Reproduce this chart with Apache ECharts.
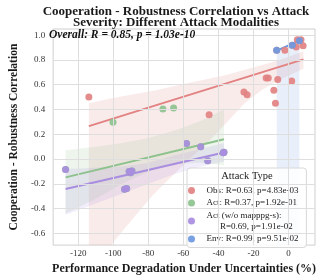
<!DOCTYPE html>
<html><head><meta charset="utf-8">
<script src="https://cdn.jsdelivr.net/npm/echarts@6/dist/echarts.min.js"></script>
<style>html,body{margin:0;padding:0;background:#fff}#c{width:319px;height:280px}</style>
</head><body><div id="c"></div>
<script>
// ---- tick labels ----
const xTicks = [-120, -100, -80, -60, -40, -20, 0];
const yTicks = [-0.6, -0.4, -0.2, 0.0, 0.2, 0.4, 0.6, 0.8, 1.0];

// ---- series values ----
const obsX = [-114.0, -45.3, -25.4, -23.6, -12.7, -11.5, -6.1, 1.9, -8.3, -7.4, -2.0, 5.1, 7.2, 4.5, 8.4, -6.7, 2.2, 6.3];
const obsY = [0.50, 0.357, 0.542, 0.52, 0.654, 0.654, 0.643, 0.63, 0.556, 0.45, 0.878, 0.963, 0.963, 0.905, 0.915, 0.878, 0.918, 0.955];

const actWoX = [-127.3, -91.0, -89.4, -90.2, -93.6, -92.4, -58.2, -50.1, -46.1, -36.8, -37.2];
const actWoY = [-0.084, -0.10, -0.096, -0.11, -0.245, -0.238, 0.126, 0.10, -0.013, 0.055, 0.05];

const actExtraX = [-100.2, -71.7, -65.6];
const actExtraY = [0.297, 0.405, 0.413];
const actX = actWoX.concat(actExtraX);
const actY = actWoY.concat(actExtraY);

const envX = [-6.7, 2.2, 6.3];
const envY = [0.878, 0.918, 0.955];

// ---- regression lines ----
const obsFitX = [-114.0, 8.6];  const obsFitY = [0.266, 0.805];
const actFitX = [-127.3, -36.8]; const actFitY = [-0.148, 0.160];
const actWoFitX = [-127.3, -36.8]; const actWoFitY = [-0.242, 0.053];
const envFitX = [-6.7, 6.3];    const envFitY = [0.876, 0.955];

// ---- confidence bands ----
const obsBandX = [-114, -101, -90, -78, -68, -55, -45, -35, -25, -15, -5, 8.6];
const obsBandU = [0.45, 0.49, 0.52, 0.55, 0.58, 0.62, 0.65, 0.68, 0.72, 0.76, 0.80, 0.87];
const obsBandL = [-1.3, -0.69, -0.50, -0.30, -0.16, 0.02, 0.15, 0.30, 0.45, 0.56, 0.64, 0.73];

const actBandX = [-127.3, -110, -95, -80, -65, -50, -36.8];
const actBandU = [0.07, 0.10, 0.13, 0.17, 0.23, 0.31, 0.40];
const actBandL = [-0.44, -0.32, -0.20, -0.10, -0.04, -0.03, -0.05];

const actWoBandX = [-127.3, -110, -95, -80, -65, -50, -36.8];
const actWoBandU = [-0.08, -0.07, -0.06, -0.03, 0.03, 0.08, 0.13];
const actWoBandL = [-0.45, -0.36, -0.28, -0.20, -0.12, -0.06, -0.02];

const envBandX = [-6.7, 6.3];
const envBandU = [0.87, 0.96];
const envBandL = [-1.5, -1.5];

// ---- legend labels ----
const legendNames = ['Obs', 'Act', 'ActWo', 'Env'];
const legendLabels = {
  Obs: 'Obs: R=0.63, p=4.83e-03',
  Act: 'Act: R=0.37, p=1.92e-01',
  ActWo: 'Act (w/o mapppg-s):\n      R=0.69, p=1.91e-02',
  Env: 'Env: R=0.99, p=9.51e-02'
};
const titleLines = ['Cooperation - Robustness Correlation vs Attack', 'Severity: Different Attack Modalities'];
const overallText = 'Overall: R = 0.85, p = 1.03e-10';
const legendTitle = 'Attack Type';

const C = { Obs: '#e28282', Act: '#8dc28d', ActWo: '#a98de0', Env: '#6e99df' };
const FONT = 'Liberation Serif';

function zip(xs, ys) { return xs.map((x, i) => [x, ys[i]]); }

function band(name, bx, bu, bl, color) {
  return {
    type: 'custom', name: name + 'Band', clip: true, silent: true, z: 1,
    data: [[bx[0], bu[0]]], encode: { x: 0, y: 1 },
    renderItem: function (params, api) {
      const pts = [];
      for (let i = 0; i < bx.length; i++) pts.push(api.coord([bx[i], bu[i]]));
      for (let i = bx.length - 1; i >= 0; i--) pts.push(api.coord([bx[i], bl[i]]));
      return { type: 'polygon', shape: { points: pts }, style: { fill: color, opacity: 0.16 } };
    }
  };
}
function fit(name, fx, fy, color) {
  return { type: 'line', name: name + 'Fit', data: zip(fx, fy), showSymbol: false, silent: true, z: 3,
    lineStyle: { color: color, width: 2 }, itemStyle: { color: color } };
}
function pts(name, xs, ys, color) {
  return { type: 'scatter', name: name, data: zip(xs, ys), symbolSize: 7, z: 4,
    itemStyle: { color: color, opacity: 0.92 } };
}

const gridLines = {
  type: 'scatter', name: 'grid', data: [], silent: true, z: 0,
  markLine: {
    silent: true, symbol: ['none', 'none'], animation: false, label: { show: false },
    lineStyle: { type: 'solid', color: '#dedede', width: 1 },
    data: xTicks.map(v => ({ xAxis: v })).concat(yTicks.map(v => ({ yAxis: v })))
  }
};

const chart = echarts.init(document.getElementById('c'), null, { renderer: 'canvas' });
chart.setOption({
  animation: false,
  backgroundColor: '#ffffff',
  grid: { left: 35, top: 29, right: 4, bottom: 30, show: true, borderColor: '#cfcfcf', borderWidth: 1 },
  xAxis: {
    type: 'value', min: -134.4, max: 15.2,
    splitLine: { show: false }, axisLine: { show: false }, axisTick: { show: false },
    axisLabel: { customValues: xTicks, formatter: v => String(v), fontFamily: FONT, fontSize: 9, color: '#333', margin: 4 },
    name: 'Performance Degradation Under Uncertainties (%)', nameLocation: 'middle', nameGap: 11,
    nameTextStyle: { fontFamily: FONT, fontSize: 12, fontWeight: 'bold', color: '#1a1a1a', verticalAlign: 'top' }
  },
  yAxis: {
    type: 'value', min: -0.695, max: 1.05,
    splitLine: { show: false }, axisLine: { show: false }, axisTick: { show: false },
    axisLabel: { customValues: yTicks, formatter: v => v.toFixed(1), fontFamily: FONT, fontSize: 9, color: '#333', margin: 8 },
    name: 'Cooperation - Robustness Correlation', nameLocation: 'middle', nameGap: 22,
    nameTextStyle: { fontFamily: FONT, fontSize: 11.5, fontWeight: 'bold', color: '#1a1a1a' }
  },
  legend: {
    data: legendNames, orient: 'vertical', left: 187, top: 168,
    padding: [17, 8, 3, 1], itemWidth: 20, itemHeight: 7, icon: 'circle', itemGap: 1.5,
    backgroundColor: 'rgba(255,255,255,0.85)', borderColor: '#d8d8d8', borderWidth: 1, borderRadius: 3,
    textStyle: { fontFamily: FONT, fontSize: 9, color: '#222', lineHeight: 11 },
    formatter: n => legendLabels[n]
  },
  graphic: [
    { type: 'text', x: 176, y: 11.7, z: 10,
      style: { text: titleLines[0], font: 'bold 13px "Liberation Serif"', fill: '#1a1a1a', align: 'center', verticalAlign: 'middle' } },
    { type: 'text', x: 176, y: 22.5, z: 10,
      style: { text: titleLines[1], font: 'bold 13px "Liberation Serif"', fill: '#1a1a1a', align: 'center', verticalAlign: 'middle' } },
    { type: 'text', x: 49, y: 35.5, z: 10,
      style: { text: overallText, font: 'italic bold 11.5px "Liberation Serif"', fill: '#111', verticalAlign: 'middle' } },
    { type: 'text', x: 247, y: 176, z: 100,
      style: { text: legendTitle, font: '10.5px "Liberation Serif"', fill: '#222', align: 'center', verticalAlign: 'middle' } }
  ],
  series: [
    gridLines,
    band('Obs', obsBandX, obsBandU, obsBandL, C.Obs),
    band('Act', actBandX, actBandU, actBandL, C.Act),
    band('ActWo', actWoBandX, actWoBandU, actWoBandL, C.ActWo),
    band('Env', envBandX, envBandU, envBandL, C.Env),
    fit('Obs', obsFitX, obsFitY, C.Obs),
    fit('Act', actFitX, actFitY, C.Act),
    fit('ActWo', actWoFitX, actWoFitY, C.ActWo),
    fit('Env', envFitX, envFitY, C.Env),
    pts('Obs', obsX, obsY, C.Obs),
    pts('Act', actX, actY, C.Act),
    pts('ActWo', actWoX, actWoY, C.ActWo),
    pts('Env', envX, envY, C.Env)
  ]
});
</script>
</body></html>
